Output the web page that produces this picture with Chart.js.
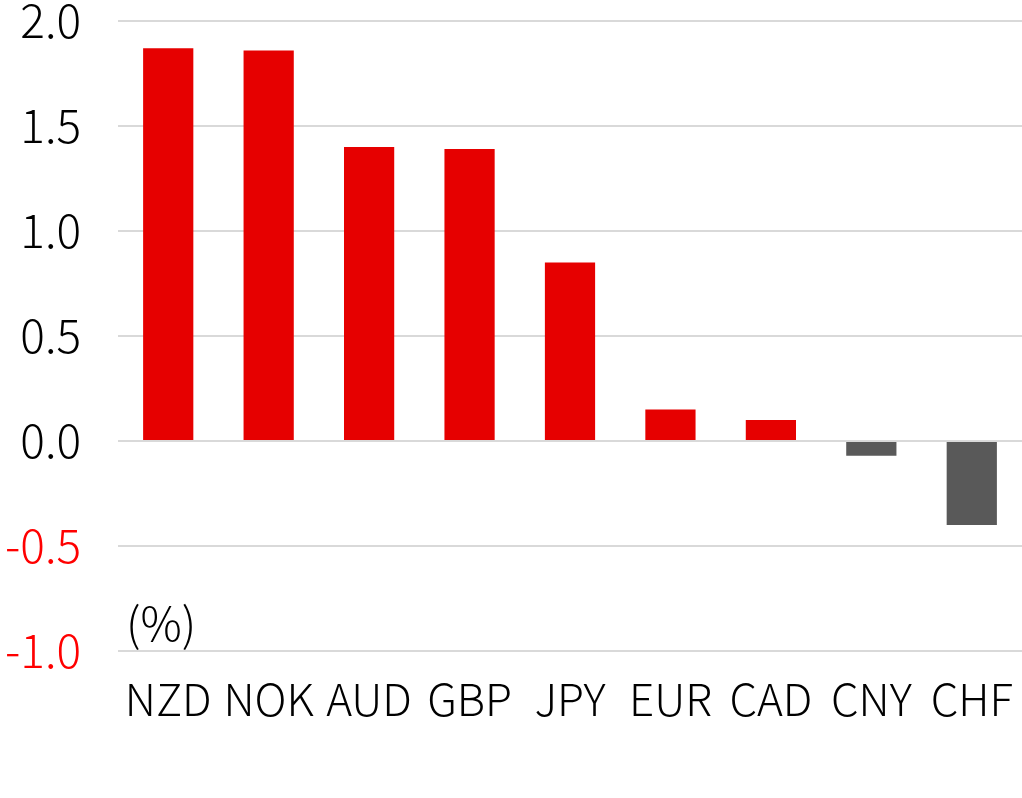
<!DOCTYPE html>
<html>
<head>
<meta charset="utf-8">
<script src="https://cdn.jsdelivr.net/npm/chart.js@4"></script>
<style>
  html, body { margin: 0; padding: 0; background: #fff; }
  #wrap { width: 1022px; height: 798px; }
</style>
</head>
<body>
<div id="wrap"><canvas id="chart"></canvas></div>
<script>
const currencies = ['NZD', 'NOK', 'AUD', 'GBP', 'JPY', 'EUR', 'CAD', 'CNY', 'CHF']
const changes = [1.87, 1.86, 1.40, 1.39, 0.85, 0.15, 0.10, -0.07, -0.40]
const yTicks = [-1.0, -0.5, 0.0, 0.5, 1.0, 1.5, 2.0]
const unitLabel = '(%)'

const red = '#e60000'
const gray = '#595959'
const fontFamily = "'Noto Sans CJK JP', sans-serif"

const barColors = changes.map(v => v >= 0 ? red : gray)

const unitPlugin = {
  id: 'unitLabel',
  afterDraw(chart) {
    const ctx = chart.ctx
    const y = chart.scales.y
    ctx.save()
    ctx.font = '300 46px ' + fontFamily
    ctx.fillStyle = '#000'
    ctx.textAlign = 'left'
    ctx.textBaseline = 'middle'
    ctx.fillText(unitLabel, chart.chartArea.left + 8, y.getPixelForValue(-0.87))
    ctx.restore()
  }
}

const ctx = document.getElementById('chart')
const mychart = new Chart(ctx, {
  type: 'bar',
  data: {
    labels: currencies,
    datasets: [{
      data: changes,
      backgroundColor: barColors,
      borderWidth: 0,
      categoryPercentage: 1,
      barPercentage: 0.5
    }]
  },
  options: {
    responsive: true,
    maintainAspectRatio: false,
    animation: false,
    layout: { padding: { top: 21, right: 0, left: 0, bottom: 0 } },
    plugins: {
      legend: { display: false },
      tooltip: { enabled: false }
    },
    scales: {
      x: {
        grid: { display: false, drawTicks: false },
        border: { display: false },
        ticks: {
          color: '#000',
          padding: 31,
          maxRotation: 0,
          minRotation: 0,
          autoSkip: false,
          font: { family: fontFamily, size: 44, weight: 300, lineHeight: 0.8 }
        },
        afterFit(scale) {
          scale.height = 147
          scale.paddingLeft = 0
          scale.paddingRight = 0
        }
      },
      y: {
        min: yTicks[0],
        max: yTicks[yTicks.length - 1],
        afterBuildTicks(scale) {
          scale.ticks = yTicks.map(v => ({ value: v }))
        },
        grid: { color: '#d9d9d9', lineWidth: 2, drawTicks: false },
        border: { display: false },
        ticks: {
          padding: 37,
          color: c => c.tick.value < 0 ? '#ff0000' : '#000',
          font: { family: fontFamily, size: 46, weight: 300, lineHeight: 0.8 },
          callback: v => v.toFixed(1)
        },
        afterFit(scale) {
          scale.width = 118
          scale.paddingTop = 0
          scale.paddingBottom = 0
        }
      }
    }
  },
  plugins: [unitPlugin]
})
</script>
</body>
</html>
